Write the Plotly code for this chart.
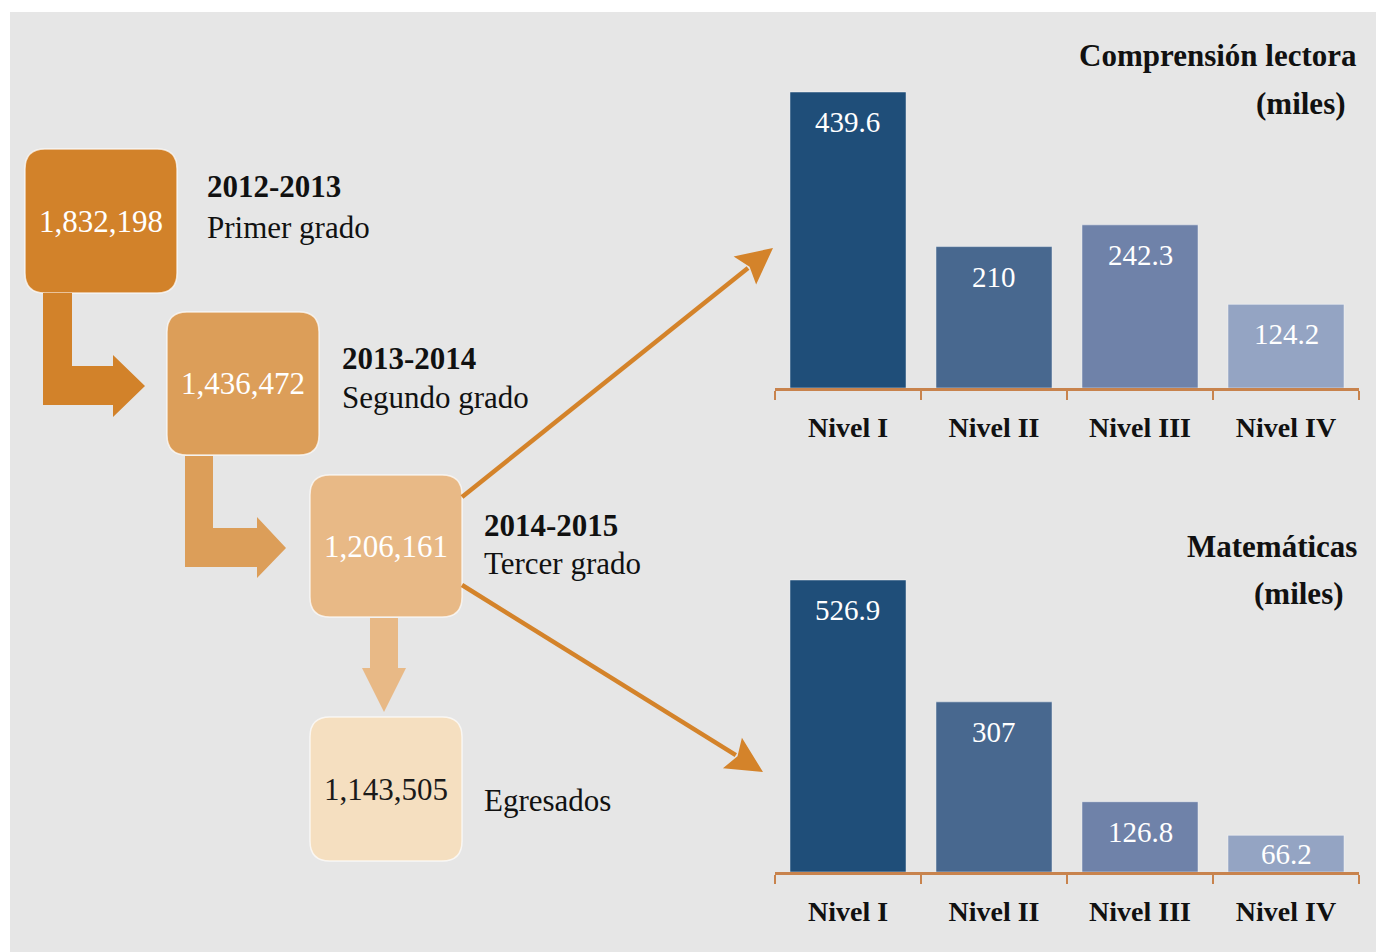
import math
import plotly.graph_objects as go

# ---------------- data ----------------
niveles = ["Nivel I", "Nivel II", "Nivel III", "Nivel IV"]
lectora = [439.6, 210, 242.3, 124.2]
matematicas = [526.9, 307, 126.8, 66.2]

cohorte_valores = ["1,832,198", "1,436,472", "1,206,161", "1,143,505"]
cohorte_ciclos = ["2012-2013", "2013-2014", "2014-2015", ""]
cohorte_grados = ["Primer grado", "Segundo grado", "Tercer grado", "Egresados"]

titulo_lectora = ["Comprensión lectora", "(miles)"]
titulo_mate = ["Matemáticas", "(miles)"]

# ---------------- style / layout ----------------
W, H = 1376, 952
FONT = "Liberation Serif"
BG = "#e6e6e6"
bar_colors = ["#1f4e79", "#48688f", "#6f82a9", "#94a4c3"]
box_colors = ["#d2822a", "#dc9e59", "#e8b986", "#f5dfc0"]
box_text_colors = ["white", "white", "white", "#1a1a1a"]
arrow_color = "#d4832a"
axis_color = "#c8834d"

# boxes in canvas pixel coordinates (x0, y0, x1, y1)
boxes = [(25, 149, 177, 293), (167, 312, 319, 455), (310, 475, 462, 617), (310, 717, 462, 861)]
label_x = [205, 340, 482, 482]
ciclo_y = [186, 358, 525, None]
grado_y = [227, 397, 563, 800]


def py(p):  # pixel y -> paper y
    return 1 - p / H


def rounded_rect(x0, y0, x1, y1, r):
    return (f"M{x0 + r},{y0} L{x1 - r},{y0} Q{x1},{y0} {x1},{y0 + r} "
            f"L{x1},{y1 - r} Q{x1},{y1} {x1 - r},{y1} L{x0 + r},{y1} "
            f"Q{x0},{y1} {x0},{y1 - r} L{x0},{y0 + r} Q{x0},{y0} {x0 + r},{y0} Z")


def poly(points):
    return "M" + " L".join(f"{x},{y}" for x, y in points) + " Z"


fig = go.Figure()

# bar charts
for vals, xa, ya in [(lectora, "x", "y"), (matematicas, "x2", "y2")]:
    fig.add_trace(go.Bar(
        x=niveles, y=vals, xaxis=xa, yaxis=ya,
        marker=dict(color=bar_colors, line=dict(color="rgba(255,255,255,0.45)", width=1)),
        width=0.795, hoverinfo="skip", showlegend=False,
    ))

# invisible overlay canvas for the flow diagram
fig.add_trace(go.Scatter(x=[0, W], y=[0, H], xaxis="x3", yaxis="y3", mode="markers",
                         marker=dict(opacity=0), hoverinfo="skip", showlegend=False))

top_dom = [py(388), py(80)]
bot_dom = [py(872), py(560)]
top_scale = 0.67334
bot_scale = 0.55418
top_max = (388 - 80) / top_scale
bot_max = (872 - 560) / bot_scale

xdom = [775 / W, 1359 / W]
axis_common = dict(
    type="category", range=[-0.5, 3.5], showline=True, linecolor=axis_color, linewidth=3,
    ticks="outside", tickson="boundaries", ticklen=9, tickwidth=2, tickcolor=axis_color,
    tickfont=dict(family=FONT, size=28, color="#111", weight="bold"),
    ticklabelstandoff=12, showgrid=False, zeroline=False, fixedrange=True,
)
yaxis_common = dict(visible=False, showgrid=False, zeroline=False, fixedrange=True)

shapes = [dict(type="rect", xref="paper", yref="paper", x0=10 / W, x1=1, y0=0, y1=py(12),
               fillcolor=BG, line=dict(width=0), layer="below")]

# boxes
for (x0, y0, x1, y1), c in zip(boxes, box_colors):
    shapes.append(dict(type="path", xref="x3", yref="y3", path=rounded_rect(x0, y0, x1, y1, 20),
                       fillcolor=c, line=dict(color="rgba(255,255,255,0.7)", width=1.5), layer="above"))

# elbow arrows
elbow1 = [(43, 293), (72, 293), (72, 366), (113, 366), (113, 355), (145, 386), (113, 417), (113, 405), (43, 405)]
elbow2 = [(185, 456), (213, 456), (213, 528), (257, 528), (257, 517), (286, 548), (257, 578), (257, 567), (185, 567)]
down3 = [(370, 618), (398, 618), (398, 668), (406, 668), (384, 712), (362, 668), (370, 668)]
for pts, c in [(elbow1, box_colors[0]), (elbow2, box_colors[1]), (down3, box_colors[2])]:
    shapes.append(dict(type="path", xref="x3", yref="y3", path=poly(pts),
                       fillcolor=c, line=dict(width=0), layer="above"))

# diagonal arrows
for (sx, sy), (tx, ty) in [((462, 497), (773, 248)), ((462, 585), (763, 772))]:
    dx, dy = tx - sx, ty - sy
    n = math.hypot(dx, dy)
    ux, uy = dx / n, dy / n
    hl, hw = 36, 18
    bx, by = tx - hl * ux, ty - hl * uy
    shapes.append(dict(type="line", xref="x3", yref="y3", x0=sx, y0=sy, x1=bx + 4 * ux, y1=by + 4 * uy,
                       line=dict(color=arrow_color, width=4.5), layer="above"))
    pts = [(tx, ty), (bx - hw * uy, by + hw * ux), (bx + 6 * ux, by + 6 * uy), (bx + hw * uy, by - hw * ux)]
    shapes.append(dict(type="path", xref="x3", yref="y3", path=poly(pts),
                       fillcolor=arrow_color, line=dict(width=0), layer="above"))

annotations = []
# box numbers
for (x0, y0, x1, y1), v, tc in zip(boxes, cohorte_valores, box_text_colors):
    annotations.append(dict(xref="x3", yref="y3", x=(x0 + x1) / 2, y=(y0 + y1) / 2, text=v,
                            showarrow=False, font=dict(family=FONT, size=31, color=tc),
                            xanchor="center", yanchor="middle"))
# labels
for lx, cy, gy, ciclo, grado in zip(label_x, ciclo_y, grado_y, cohorte_ciclos, cohorte_grados):
    if ciclo:
        annotations.append(dict(xref="x3", yref="y3", x=lx, y=cy, text=ciclo, showarrow=False,
                                font=dict(family=FONT, size=31, color="#111", weight="bold"),
                                xanchor="left", yanchor="middle"))
    annotations.append(dict(xref="x3", yref="y3", x=lx, y=gy, text=grado, showarrow=False,
                            font=dict(family=FONT, size=31, color="#111"),
                            xanchor="left", yanchor="middle"))

# titles
for (t1, t2), y1, y2, r2 in [(titulo_lectora, 55, 103, 1348), (titulo_mate, 546, 593, 1346)]:
    annotations.append(dict(xref="x3", yref="y3", x=1359, y=y1, text=t1, showarrow=False,
                            font=dict(family=FONT, size=31, color="#111", weight="bold"),
                            xanchor="right", yanchor="middle"))
    annotations.append(dict(xref="x3", yref="y3", x=r2, y=y2, text=t2, showarrow=False,
                            font=dict(family=FONT, size=31, color="#111", weight="bold"),
                            xanchor="right", yanchor="middle"))

# bar value labels
for vals, xa, ya, scale in [(lectora, "x", "y", top_scale), (matematicas, "x2", "y2", bot_scale)]:
    for cat, v in zip(niveles, vals):
        shift = -12 if v * scale > 50 else -1
        annotations.append(dict(xref=xa, yref=ya, x=cat, y=v, text=f"{v:g}", showarrow=False,
                                font=dict(family=FONT, size=29, color="white"),
                                xanchor="center", yanchor="top", yshift=shift))

fig.update_layout(
    width=W, height=H, margin=dict(l=0, r=0, t=0, b=0),
    paper_bgcolor="white", plot_bgcolor="rgba(0,0,0,0)",
    showlegend=False, bargap=0.2,
    xaxis=dict(domain=xdom, anchor="y", **axis_common),
    yaxis=dict(domain=top_dom, anchor="x", range=[0, top_max], **yaxis_common),
    xaxis2=dict(domain=xdom, anchor="y2", **axis_common),
    yaxis2=dict(domain=bot_dom, anchor="x2", range=[0, bot_max], **yaxis_common),
    xaxis3=dict(domain=[0, 1], anchor="y3", range=[0, W], visible=False, fixedrange=True),
    yaxis3=dict(domain=[0, 1], anchor="x3", range=[H, 0], visible=False, fixedrange=True),
    shapes=shapes, annotations=annotations,
)

fig.write_html("out.html", config={"displayModeBar": False},
               post_script="document.body.style.margin='0px';document.body.style.overflow='hidden';")
